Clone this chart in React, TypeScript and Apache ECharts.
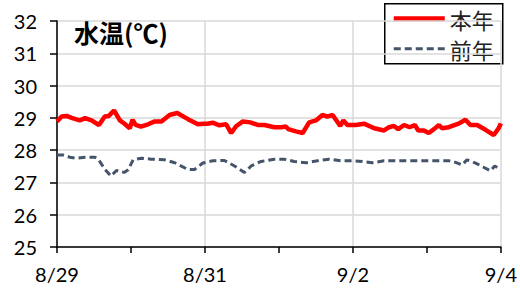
import React, { useEffect, useRef } from "react";
import * as echarts from "echarts";

// hours since 8/29 00:00 and water temperature
const thisYearHours = [0, 1.5, 3.1, 4.75, 6.05, 7.4, 9.1, 11.2, 13.6, 15.5, 16.8, 18.5, 20.4, 22, 23.6, 24.5, 25.5, 27.2, 29, 31.7, 33.9, 36.5, 39, 42.5, 45.7, 47.5, 48.8, 50.5, 52.7, 54.9, 56.5, 58.1, 60.3, 62.7, 65.1, 67.3, 70.5, 72.7, 74.3, 75, 77.5, 79.7, 81.8, 84, 86.1, 87.7, 89.4, 91.9, 92.9, 94.2, 96.9, 99.6, 102.9, 106.1, 107.7, 109.3, 110.7, 112.6, 114.4, 116.1, 117.2, 119, 120.6, 122.3, 123.9, 124.9, 127.1, 130.3, 132.5, 134.1, 136.3, 139, 141.7, 143.3, 144];
const thisYearTemps = [28.89, 29.04, 29.06, 29.0, 28.96, 28.92, 28.99, 28.92, 28.78, 29.04, 29.06, 29.23, 28.92, 28.81, 28.68, 28.94, 28.78, 28.73, 28.78, 28.89, 28.89, 29.09, 29.15, 28.96, 28.8, 28.82, 28.82, 28.85, 28.77, 28.8, 28.53, 28.74, 28.89, 28.86, 28.78, 28.78, 28.71, 28.71, 28.73, 28.65, 28.58, 28.53, 28.86, 28.92, 29.09, 29.04, 29.09, 28.75, 28.92, 28.78, 28.78, 28.82, 28.68, 28.61, 28.71, 28.75, 28.65, 28.78, 28.71, 28.78, 28.61, 28.61, 28.53, 28.65, 28.78, 28.68, 28.71, 28.82, 28.94, 28.78, 28.78, 28.63, 28.47, 28.68, 28.83];

const lastYearHours = [0, 2, 4.2, 6.4, 9.1, 12.3, 13.4, 15.5, 17.5, 19.3, 21.8, 23.1, 24.7, 27.4, 30.6, 34.9, 38.2, 42.5, 44.6, 47.3, 50.6, 54.3, 57.6, 60.8, 63, 66.2, 70.5, 73.7, 77, 80.8, 84.5, 88.3, 92.1, 95.8, 99.1, 102.3, 106.1, 114.2, 120.6, 127.1, 129.3, 131.4, 133, 135.8, 138.4, 140.6, 142, 143.3];
const lastYearTemps = [27.85, 27.85, 27.78, 27.75, 27.78, 27.78, 27.72, 27.41, 27.2, 27.37, 27.31, 27.39, 27.7, 27.75, 27.72, 27.7, 27.61, 27.4, 27.4, 27.6, 27.67, 27.68, 27.51, 27.31, 27.51, 27.65, 27.72, 27.72, 27.65, 27.61, 27.67, 27.72, 27.67, 27.67, 27.65, 27.61, 27.67, 27.67, 27.67, 27.67, 27.62, 27.54, 27.7, 27.6, 27.47, 27.36, 27.51, 27.43];

const dayLabels = ["8/29", "8/30", "8/31", "9/1", "9/2", "9/3", "9/4"];
const seriesNames = ["本年", "前年"];
const title = "水温(℃)";

const RED = "#ff0000";
const SLATE = "#44546a";

export default function App() {
  const ref = useRef<HTMLDivElement>(null);
  useEffect(() => {
    const chart = echarts.init(ref.current!, null, { renderer: "svg" });
    const font = "Lato, 'Noto Sans CJK JP', sans-serif";
    const cjk = "'Noto Sans CJK JP', sans-serif";
    chart.setOption({
      animation: false,
      backgroundColor: "#ffffff",
      grid: { left: 57, right: 18, top: 21, bottom: 44, containLabel: false },
      xAxis: {
        type: "value",
        min: 0,
        max: 144,
        interval: 48,
        axisLine: { show: true, onZero: false, lineStyle: { color: "#000", width: 1.5 } },
        axisTick: { show: true, length: 6, lineStyle: { color: "#000", width: 1.5 } },
        minorTick: { show: true, splitNumber: 2, length: 6, lineStyle: { color: "#000", width: 1.5 } },
        splitLine: { show: true, lineStyle: { color: "#d9d9d9", width: 1.5 } },
        axisLabel: {
          color: "#000",
          fontSize: 20,
          fontFamily: font,
          margin: 17,
          showMaxLabel: true,
          showMinLabel: true,
          formatter: (v: number) => dayLabels[Math.round(v / 24)] ?? "",
        },
      },
      yAxis: {
        type: "value",
        min: 25,
        max: 32,
        interval: 1,
        axisLine: { show: true, lineStyle: { color: "#000", width: 1.5 } },
        axisTick: { show: true, length: 7, lineStyle: { color: "#000", width: 1.5 } },
        splitLine: { show: true, lineStyle: { color: "#d9d9d9", width: 1.5 } },
        axisLabel: { color: "#000", fontSize: 20, fontFamily: font, margin: 20 },
      },
      legend: { show: false },
      graphic: [
        {
          type: "text",
          left: 74,
          top: 19,
          z: 10,
          style: {
            text: title,
            fontSize: 25,
            fontWeight: "bold",
            fontFamily: cjk,
            fill: "#000",
          },
        },
        {
          type: "group",
          left: 384,
          top: 3,
          z: 20,
          children: [
            {
              type: "rect",
              shape: { x: 0, y: 0, width: 118, height: 60 },
              style: { fill: "#fff", stroke: "#000", lineWidth: 1.5 },
            },
            {
              type: "line",
              shape: { x1: 9, y1: 15, x2: 60, y2: 15 },
              style: { stroke: RED, lineWidth: 5 },
            },
            {
              type: "text",
              x: 65,
              y: 15,
              style: { text: seriesNames[0], fontSize: 22, lineHeight: 24, fontFamily: cjk, fill: "#222", verticalAlign: "middle" },
            },
            {
              type: "line",
              shape: { x1: 9, y1: 45, x2: 60, y2: 45 },
              style: { stroke: SLATE, lineWidth: 3, lineDash: [7, 4] },
            },
            {
              type: "text",
              x: 65,
              y: 45,
              style: { text: seriesNames[1], fontSize: 22, lineHeight: 24, fontFamily: cjk, fill: "#222", verticalAlign: "middle" },
            },
          ],
        },
      ],
      series: [
        {
          name: seriesNames[0],
          type: "line",
          symbol: "none",
          showSymbol: false,
          data: thisYearHours.map((h, i) => [h, thisYearTemps[i]]),
          lineStyle: { color: RED, width: 4.5 },
          itemStyle: { color: RED },
          z: 3,
        },
        {
          name: seriesNames[1],
          type: "line",
          symbol: "none",
          showSymbol: false,
          data: lastYearHours.map((h, i) => [h, lastYearTemps[i]]),
          lineStyle: { color: SLATE, width: 3, type: [7, 4] },
          itemStyle: { color: SLATE },
          z: 2,
        },
      ],
    });
    return () => chart.dispose();
  }, []);
  return <div ref={ref} style={{ width: 520, height: 291, position: "absolute", left: 0, top: 0 }} />;
}
